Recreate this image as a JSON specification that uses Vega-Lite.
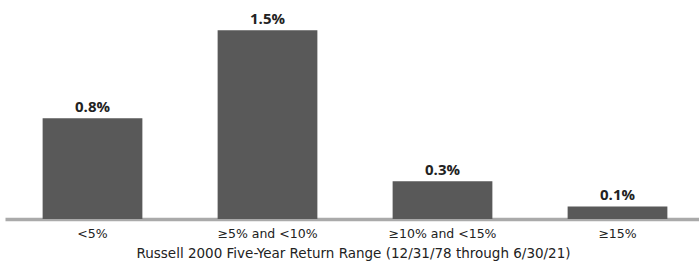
{
  "$schema": "https://vega.github.io/schema/vega-lite/v6.json",
  "width": 694,
  "height": 219,
  "autosize": {"type": "none"},
  "padding": {"left": 5, "top": 0, "right": 0, "bottom": 42},
  "background": "white",
  "config": {"view": {"stroke": null}, "font": "Open Sans"},
  "data": {
    "values": [
      {"range": "<5%", "value": 0.8, "label": "0.8%"},
      {"range": "≥5% and <10%", "value": 1.5, "label": "1.5%"},
      {"range": "≥10% and <15%", "value": 0.3, "label": "0.3%"},
      {"range": "≥15%", "value": 0.1, "label": "0.1%"}
    ]
  },
  "encoding": {
    "x": {
      "field": "range",
      "type": "nominal",
      "sort": null,
      "scale": {"range": [0, 700], "paddingInner": 0.43, "paddingOuter": 0.215},
      "axis": {
        "title": "Russell 2000 Five-Year Return Range (12/31/78 through 6/30/21)",
        "labelAngle": 0,
        "labelFont": "DejaVu Sans",
        "labelFontSize": 12.5,
        "labelColor": "#222222",
        "labelPadding": 8,
        "ticks": false,
        "domainColor": "#aaaaaa",
        "domainWidth": 3.5,
        "titleFont": "DejaVu Sans",
        "titleFontSize": 13.5,
        "titleFontWeight": "normal",
        "titleColor": "#222222",
        "titlePadding": 7,
        "titleX": 348
      }
    },
    "y": {
      "field": "value",
      "type": "quantitative",
      "scale": {"domain": [0, 1.74], "nice": false},
      "axis": null
    }
  },
  "layer": [
    {"mark": {"type": "bar", "color": "#595959"}},
    {
      "mark": {"type": "text", "baseline": "bottom", "dy": -3, "fontSize": 15, "fontWeight": "bold", "color": "#222222"},
      "encoding": {"text": {"field": "label"}}
    }
  ]
}
